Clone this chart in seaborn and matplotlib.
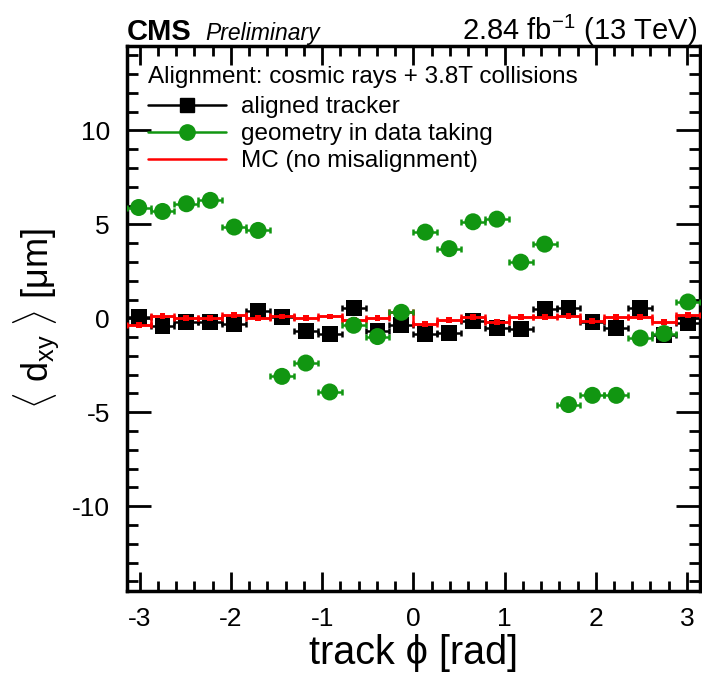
import numpy as np
import pandas as pd
import seaborn as sns
import matplotlib.pyplot as plt
from matplotlib.ticker import MultipleLocator

# data (24 bins in phi)
n_bins = 24
aligned = [0.07, -0.39, -0.20, -0.20, -0.30, 0.37, 0.07, -0.69, -0.83, 0.55, -0.69, -0.34,
           -0.83, -0.78, -0.16, -0.51, -0.59, 0.50, 0.55, -0.20, -0.51, 0.55, -0.87, -0.25]
geometry = [5.90, 5.69, 6.10, 6.28, 4.86, 4.68, -3.09, -2.38, -3.92, -0.37, -0.97, 0.32,
            4.59, 3.71, 5.14, 5.28, 2.99, 3.95, -4.59, -4.10, -4.10, -1.05, -0.81, 0.87]
mc = [-0.34, 0.14, 0.00, 0.00, 0.20, 0.00, 0.10, 0.00, 0.10, -0.07, 0.00, 0.32,
      -0.28, -0.07, 0.05, -0.20, 0.05, 0.05, 0.12, -0.16, 0.05, 0.05, -0.20, 0.20]

edges = np.linspace(-np.pi, np.pi, n_bins + 1)
centers = 0.5 * (edges[:-1] + edges[1:])
half_w = 0.5 * (edges[1] - edges[0])

df = pd.DataFrame({'phi': centers, 'aligned': aligned, 'geometry': geometry, 'mc': mc})

sns.set_theme(style='ticks')
plt.rcParams['font.family'] = ['Liberation Sans', 'DejaVu Sans']
plt.rcParams['mathtext.fontset'] = 'custom'
plt.rcParams['mathtext.rm'] = 'Liberation Sans'
plt.rcParams['mathtext.it'] = 'Liberation Sans:italic'
plt.rcParams['axes.unicode_minus'] = False
plt.rcParams['text.color'] = 'black'
plt.rcParams['axes.labelcolor'] = 'black'

green = '#119611'

fig = plt.figure(figsize=(7.02, 6.81), dpi=100)
ax = fig.add_axes([0.1805, 0.1326, 0.8165, 0.7999])

# aligned tracker
ax.errorbar(df['phi'], df['aligned'], xerr=half_w, fmt='none', ecolor='black',
            elinewidth=1.8, capsize=2.5, capthick=1.8, zorder=2)
sns.scatterplot(data=df, x='phi', y='aligned', marker='s', s=130, color='black',
                edgecolor='none', ax=ax, zorder=3, legend=False)

# MC (no misalignment)
ax.errorbar(df['phi'], df['mc'], xerr=half_w, fmt='none', ecolor='red',
            elinewidth=1.8, capsize=2.5, capthick=1.8, zorder=4)
ax.step(np.r_[edges[0], centers, edges[-1]], np.r_[mc[0], mc, mc[-1]], where='mid',
        color='red', lw=1.8, zorder=4)
sns.scatterplot(data=df, x='phi', y='mc', marker='s', s=18, color='red',
                edgecolor='none', ax=ax, zorder=5, legend=False)

# geometry in data taking
ax.errorbar(df['phi'], df['geometry'], xerr=half_w, fmt='none', ecolor=green,
            elinewidth=1.8, capsize=2.5, capthick=1.8, zorder=6)
sns.scatterplot(data=df, x='phi', y='geometry', marker='o', s=150, color=green,
                edgecolor='none', ax=ax, zorder=7, legend=False)

ax.set_xlim(-np.pi, np.pi)
ax.set_ylim(-14.5, 14.5)
ax.xaxis.set_major_locator(MultipleLocator(1))
ax.xaxis.set_minor_locator(MultipleLocator(0.2))
ax.yaxis.set_major_locator(MultipleLocator(5))
ax.yaxis.set_minor_locator(MultipleLocator(1))
ax.tick_params(which='both', direction='in', top=True, right=True, width=2, labelsize=19,
               colors='black')
ax.tick_params(which='major', length=17, pad=12)
ax.tick_params(which='minor', length=8)
ax.tick_params(axis='x', which='major', length=14)
ax.tick_params(axis='x', which='minor', length=7)
for sp in ax.spines.values():
    sp.set_linewidth(2.5)
    sp.set_color('black')

ax.set_xlabel('track ϕ [rad]', fontsize=28.5, labelpad=2)
ax.set_ylabel(r'$\langle$ d$_{\mathregular{xy}}$ $\rangle$ [$\mathregular{\mu}$m]', fontsize=26,
              labelpad=8)

# legend
handles = [
    plt.Line2D([], [], color='black', lw=1.8, marker='s', markersize=10),
    plt.Line2D([], [], color=green, lw=1.8, marker='o', markersize=11),
    plt.Line2D([], [], color='red', lw=1.8),
]
labels = ['aligned tracker', 'geometry in data taking', 'MC (no misalignment)']
leg = ax.legend(handles, labels, title='Alignment: cosmic rays + 3.8T collisions',
                loc='upper left', bbox_to_anchor=(0.012, 0.99), frameon=False,
                fontsize=17.5, title_fontsize=17.5, handlelength=3.2, handletextpad=0.6,
                labelspacing=0.2, borderaxespad=0.2)
leg._legend_box.align = 'left'
leg._legend_box.sep = 6
for t in leg.get_texts():
    t.set_color('black')
leg.get_title().set_color('black')

fig.text(0.1805, 0.941, 'CMS', fontsize=21, fontweight='bold', ha='left', va='baseline')
fig.text(0.292, 0.941, 'Preliminary', fontsize=16.5, style='italic', ha='left', va='baseline')
fig.text(0.993, 0.941, r'2.84 fb$^{\mathregular{-1}}$ (13 TeV)', fontsize=21, ha='right',
         va='baseline')

fig.savefig('out.png', dpi=100)
